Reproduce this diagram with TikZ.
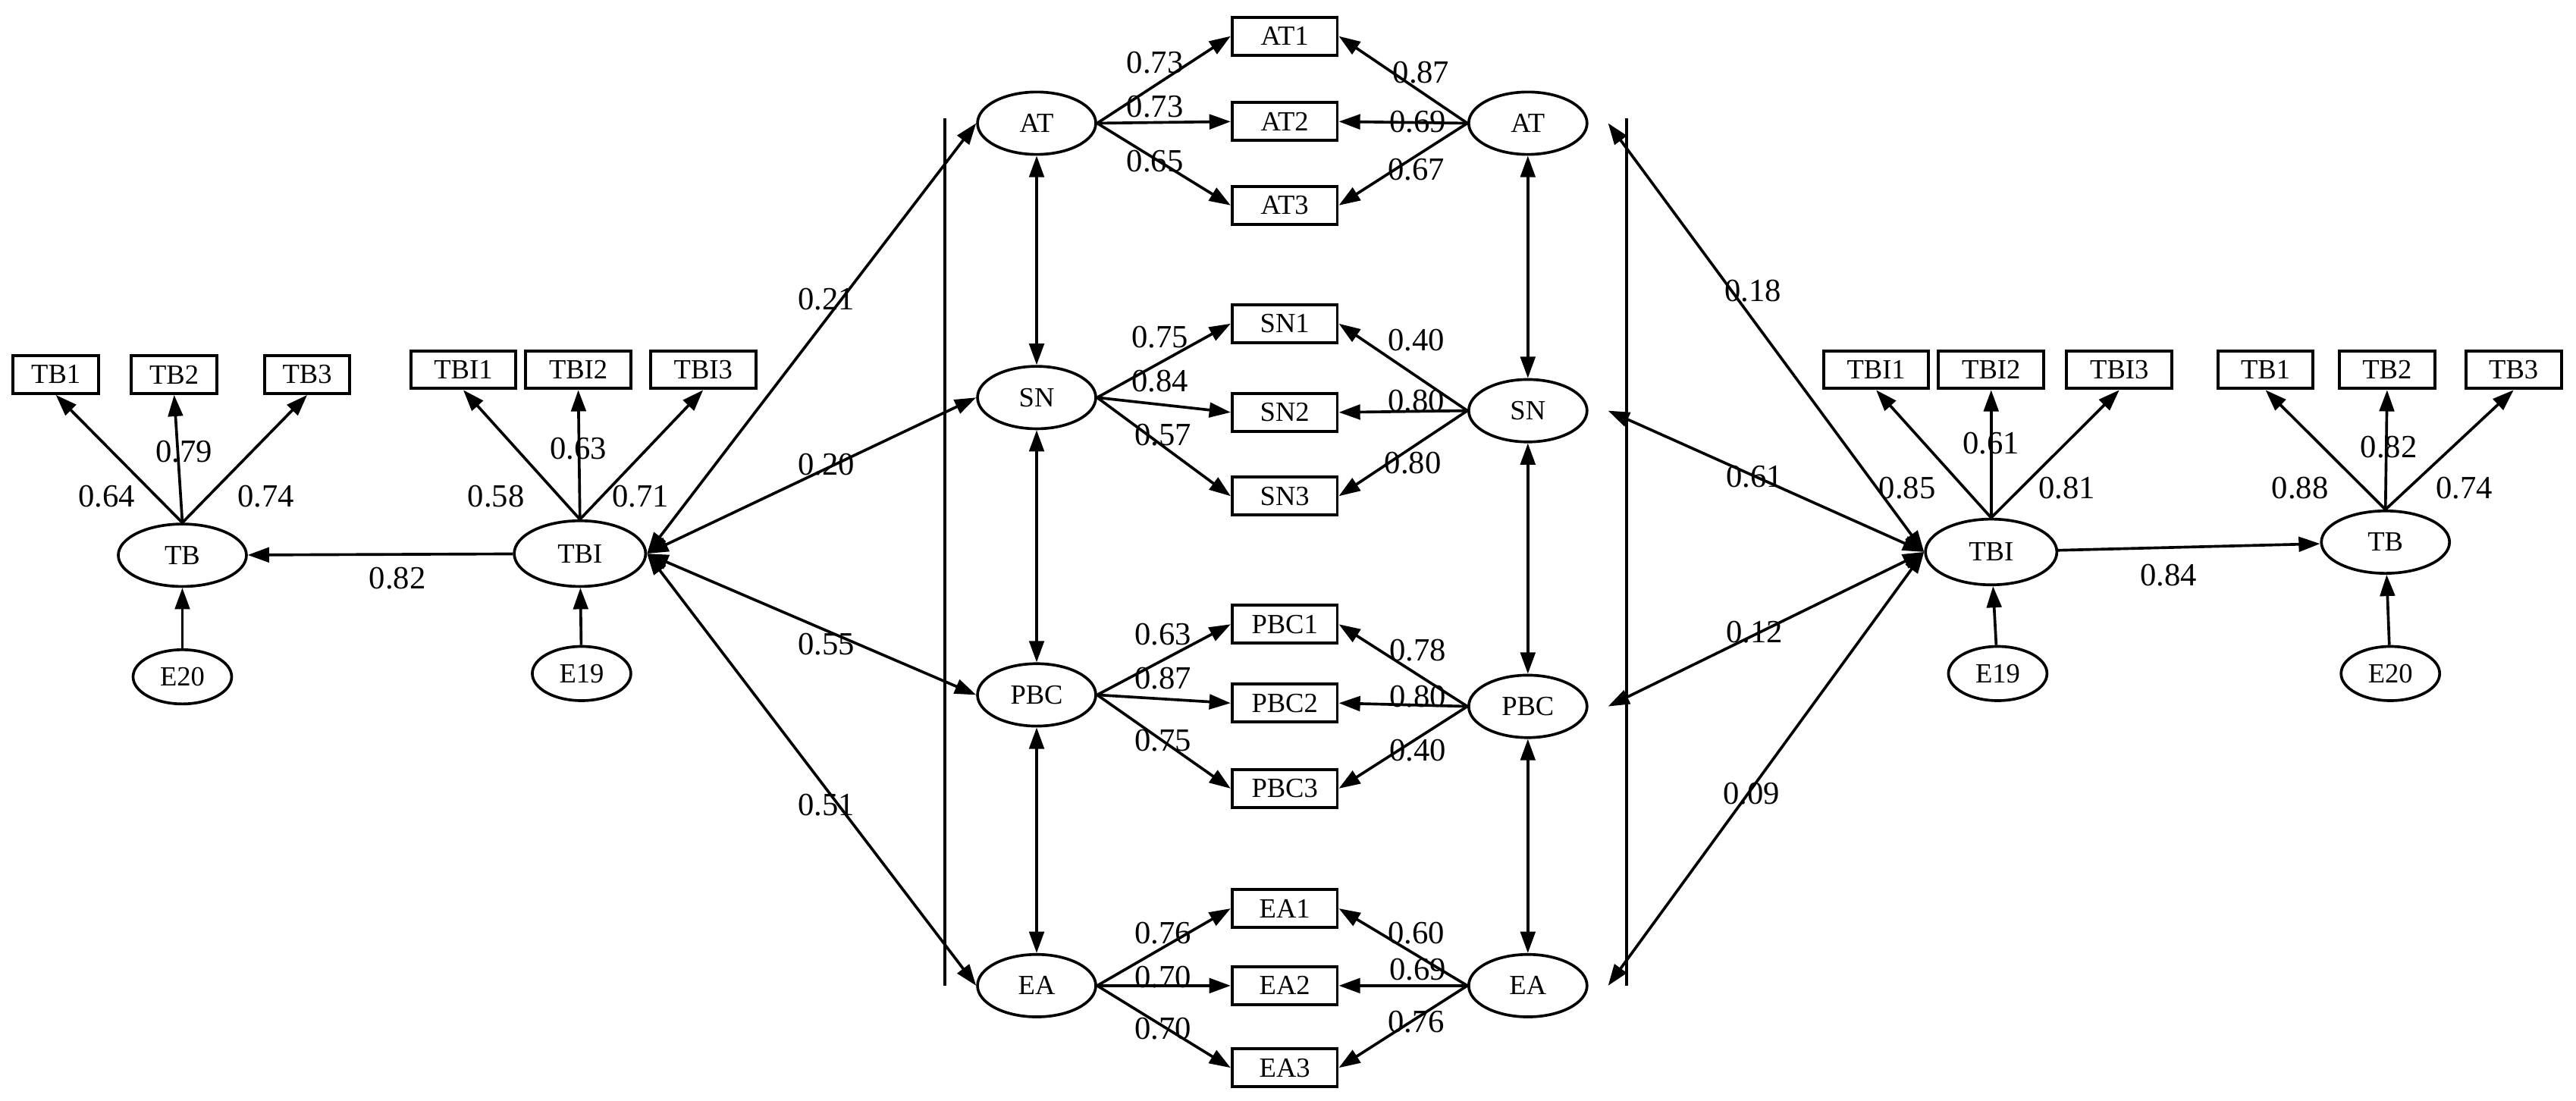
\documentclass[tikz,border=0pt]{standalone}
\usepackage{fontspec}
\setmainfont{Liberation Serif}
\usetikzlibrary{arrows.meta,shapes.geometric}
\begin{document}
\begin{tikzpicture}[x=0.05cm,y=-0.05cm,
  every node/.style={font=\fontsize{24}{28}\selectfont},
  lat/.style={draw,ellipse,line width=2.4pt,minimum width=3.6cm,minimum height=1.9cm,inner sep=0pt},
  err/.style={draw,ellipse,line width=2.4pt,minimum width=3cm,minimum height=1.65cm,inner sep=0pt},
  obs/.style={draw,rectangle,line width=2.6pt,minimum width=3.2cm,minimum height=1.15cm,inner sep=0pt},
  lbl/.style={font=\fontsize{28}{32}\selectfont,inner sep=0pt},
  ar/.style={line width=2.4pt,-{Triangle[length=0.65cm,width=0.45cm]}},
  dar/.style={line width=2.4pt,{Triangle[length=0.65cm,width=0.45cm]}-{Triangle[length=0.65cm,width=0.45cm]}}]
\useasboundingbox (0,0) rectangle (1568,670);
% ---------- left TB / TBI
\node[obs,minimum width=2.6cm] (LTB1) at (34,228) {TB1};
\node[obs,minimum width=2.6cm] (LTB2) at (106,228) {TB2};
\node[obs,minimum width=2.6cm] (LTB3) at (187,228) {TB3};
\node[lat,minimum width=3.9cm] (LTB) at (111,338) {TB};
\node[err] (LE20) at (111,412) {E20};
\node[obs] (LTBI1) at (282,225) {TBI1};
\node[obs] (LTBI2) at (352,225) {TBI2};
\node[obs] (LTBI3) at (428,225) {TBI3};
\node[lat,minimum width=4cm,minimum height=2cm] (LTBI) at (353,337) {TBI};
\node[err] (LE19) at (354,410) {E19};
\foreach \t in {1,2,3}{\draw[ar] (LTB.north) -- (LTB\t.south); \draw[ar] (LTBI.north) -- (LTBI\t.south);}
\draw[ar] (LE20) -- (LTB); \draw[ar] (LE19) -- (LTBI); \draw[ar] (LTBI) -- (LTB);
\node[lbl] at (65,302) {0.64}; \node[lbl] at (112,275) {0.79}; \node[lbl] at (162,302) {0.74};
\node[lbl] at (302,302) {0.58}; \node[lbl] at (352,273) {0.63}; \node[lbl] at (390,302) {0.71};
\node[lbl] at (242,352) {0.82};
% ---------- middle latent
\node[lat] (AT) at (631,75) {AT};
\node[lat] (SN) at (631,242) {SN};
\node[lat] (PBC) at (631,423) {PBC};
\node[lat] (EA) at (631,600) {EA};
\node[lat] (RAT) at (930,75) {AT};
\node[lat] (RSN) at (930,250) {SN};
\node[lat] (RPBC) at (930,430) {PBC};
\node[lat] (REA) at (930,600) {EA};
\coordinate (LB1) at (575,72); \coordinate (LB2) at (575,600);
\coordinate (RB1) at (990,72); \coordinate (RB2) at (990,600);
\draw[line width=2.4pt] (LB1) -- (LB2); \draw[line width=2.4pt] (RB1) -- (RB2);
\draw[dar] (AT) -- (SN); \draw[dar] (SN) -- (PBC); \draw[dar] (PBC) -- (EA);
\draw[dar] (RAT) -- (RSN); \draw[dar] (RSN) -- (RPBC); \draw[dar] (RPBC) -- (REA);
% indicator boxes
\foreach \n/\y in {AT1/22,AT2/74,AT3/125,SN1/197,SN2/251,SN3/302,PBC1/380,PBC2/428,PBC3/480,EA1/553,EA2/600,EA3/650}
  \node[obs] (\n) at (782,\y) {\n};
\foreach \f in {AT,SN,PBC,EA}{
  \foreach \i in {1,2,3}{
    \draw[ar] (\f.east) -- (\f\i.west);
    \draw[ar] (R\f.west) -- (\f\i.east);}}
\foreach \v/\x/\y in {0.73/703/38,0.73/703/65,0.65/703/98,0.75/706/205,0.84/706/232,0.57/708/265,
  0.63/708/386,0.87/708/413,0.75/708/451,0.76/708/568,0.70/708/595,0.70/708/626,
  0.87/865/44,0.69/863/74,0.67/862/103,0.40/862/207,0.80/862/244,0.80/860/282,
  0.78/863/396,0.80/863/424,0.40/863/457,0.60/862/568,0.69/863/590,0.76/862/622}
  \node[lbl] at (\x,\y) {\v};
% left structural
\foreach \f in {AT,SN,PBC,EA}{\draw[dar] (LTBI.east) -- (\f.west);}
\node[lbl] at (503,182) {0.21}; \node[lbl] at (503,283) {0.20};
\node[lbl] at (503,392) {0.55}; \node[lbl] at (503,490) {0.51};
% ---------- right TBI / TB
\node[lat,minimum width=4cm,minimum height=2cm] (RTBI) at (1212,336) {TBI};
\node[obs] (RTBI1) at (1142,225) {TBI1};
\node[obs] (RTBI2) at (1212,225) {TBI2};
\node[obs] (RTBI3) at (1290,225) {TBI3};
\node[err] (RE19) at (1216,410) {E19};
\node[lat,minimum width=3.9cm] (RTB) at (1452,330) {TB};
\node[obs,minimum width=2.9cm] (RTB1) at (1379,225) {TB1};
\node[obs,minimum width=2.9cm] (RTB2) at (1453,225) {TB2};
\node[obs,minimum width=2.9cm] (RTB3) at (1530,225) {TB3};
\node[err] (RE20) at (1455,410) {E20};
\foreach \t in {1,2,3}{\draw[ar] (RTB.north) -- (RTB\t.south); \draw[ar] (RTBI.north) -- (RTBI\t.south);}
\draw[ar] (RE20) -- (RTB); \draw[ar] (RE19) -- (RTBI); \draw[ar] (RTBI) -- (RTB);
\foreach \f in {AT,SN,PBC,EA}{\draw[dar] (RTBI.west) -- ([xshift=0.6cm]R\f.east);}
\node[lbl] at (1067,177) {0.18}; \node[lbl] at (1068,290) {0.61};
\node[lbl] at (1068,385) {0.12}; \node[lbl] at (1066,483) {0.09};
\node[lbl] at (1161,297) {0.85}; \node[lbl] at (1212,270) {0.61}; \node[lbl] at (1258,297) {0.81};
\node[lbl] at (1400,297) {0.88}; \node[lbl] at (1454,272) {0.82}; \node[lbl] at (1500,297) {0.74};
\node[lbl] at (1320,350) {0.84};
\end{tikzpicture}
\end{document}
